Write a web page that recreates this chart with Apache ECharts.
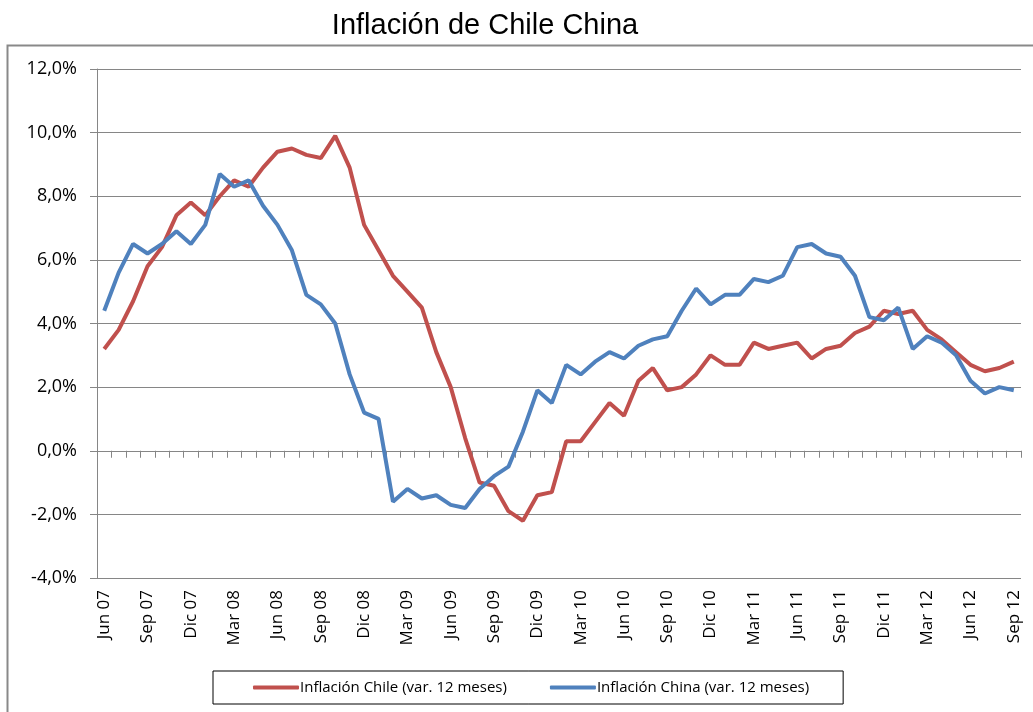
<!DOCTYPE html>
<html>
<head>
    <meta charset="utf-8">
    <title>Inflación de Chile China</title>
    <script src="https://cdn.jsdelivr.net/npm/echarts@6/dist/echarts.min.js"></script>
    <style>
        html, body { margin: 0; padding: 0; background: #fff; }
    </style>
</head>
<body>
<div id="main" style="width: 1033px;height:712px;"></div>
<script type="text/javascript">
    // meses jun 07 .. sep 12
    var meses = ['Ene','Feb','Mar','Abr','May','Jun','Jul','Ago','Sep','Oct','Nov','Dic'];
    var categorias = [];
    for (var a = 7; a <= 12; a++) {
        for (var m = 0; m < 12; m++) {
            if (a === 7 && m < 5) continue;
            if (a === 12 && m > 8) continue;
            categorias.push(meses[m] + ' ' + (a < 10 ? '0' + a : a));
        }
    }

    // inflacion (var. 12 meses), en %
    var chile = [
        3.2, 3.8, 4.7, 5.8, 6.4, 7.4, 7.8, 7.4, 8.0, 8.5, 8.3, 8.9,
        9.4, 9.5, 9.3, 9.2, 9.9, 8.9, 7.1, 6.3, 5.5, 5.0, 4.5, 3.1,
        2.0, 0.4, -1.0, -1.1, -1.9, -2.2, -1.4, -1.3, 0.3, 0.3, 0.9, 1.5,
        1.1, 2.2, 2.6, 1.9, 2.0, 2.4, 3.0, 2.7, 2.7, 3.4, 3.2, 3.3,
        3.4, 2.9, 3.2, 3.3, 3.7, 3.9, 4.4, 4.3, 4.4, 3.8, 3.5, 3.1,
        2.7, 2.5, 2.6, 2.8
    ];
    var china = [
        4.4, 5.6, 6.5, 6.2, 6.5, 6.9, 6.5, 7.1, 8.7, 8.3, 8.5, 7.7,
        7.1, 6.3, 4.9, 4.6, 4.0, 2.4, 1.2, 1.0, -1.6, -1.2, -1.5, -1.4,
        -1.7, -1.8, -1.2, -0.8, -0.5, 0.6, 1.9, 1.5, 2.7, 2.4, 2.8, 3.1,
        2.9, 3.3, 3.5, 3.6, 4.4, 5.1, 4.6, 4.9, 4.9, 5.4, 5.3, 5.5,
        6.4, 6.5, 6.2, 6.1, 5.5, 4.2, 4.1, 4.5, 3.2, 3.6, 3.4, 3.0,
        2.2, 1.8, 2.0, 1.9
    ];

    var myChart = echarts.init(document.getElementById('main'));
    var option = {
        animation: false,
        title: {
            text: 'Inflación de Chile China',
            left: 480,
            textAlign: 'center',
            top: 6,
            textStyle: {
                fontFamily: 'Liberation Sans Narrow, Liberation Sans, sans-serif',
                fontSize: 29,
                fontWeight: 'normal',
                color: '#000'
            }
        },
        graphic: [
            {   // marco del grafico
                type: 'rect',
                shape: { x: 7.5, y: 45.5, width: 1040, height: 700 },
                style: { fill: 'none', stroke: '#898989', lineWidth: 2 },
                silent: true
            }
        ],
        legend: {
            left: 213,
            top: 671,
            padding: [9, 34, 9, 40],
            borderColor: '#000',
            borderWidth: 1,
            itemWidth: 46,
            itemHeight: 4,
            itemGap: 43,
            icon: 'roundRect',
            textStyle: {
                fontFamily: 'Open Sans',
                fontSize: 15,
                color: '#000',
                padding: [0, 0, 0, -4]
            },
            data: ['Inflación Chile (var. 12 meses)', 'Inflación China (var. 12 meses)']
        },
        grid: {
            left: 97,
            right: 12,
            top: 69,
            bottom: 134
        },
        xAxis: [
            {
                type: 'category',
                data: categorias,
                boundaryGap: true,
                axisLine: { show: false, onZero: false },
                axisTick: { show: false },
                axisLabel: {
                    interval: 2,
                    rotate: 90,
                    margin: 12,
                    fontFamily: 'Open Sans',
                    fontSize: 17,
                    color: '#000'
                }
            },
            {
                type: 'category',
                data: categorias,
                boundaryGap: true,
                axisLine: { show: true, onZero: true, lineStyle: { color: '#868686', width: 1 } },
                axisTick: { show: true, inside: true, interval: 0, length: 7, lineStyle: { color: '#868686' } },
                axisLabel: { show: false }
            }
        ],
        yAxis: {
            type: 'value',
            min: -4,
            max: 12,
            interval: 2,
            axisLine: { show: true, lineStyle: { color: '#868686' } },
            axisTick: { show: true, length: 7, lineStyle: { color: '#868686' } },
            splitLine: { show: true, lineStyle: { color: '#868686', width: 1 } },
            axisLabel: {
                margin: 20,
                fontFamily: 'Open Sans',
                fontSize: 18,
                color: '#000',
                formatter: function (v) {
                    return v.toFixed(1).replace('.', ',') + '%';
                }
            }
        },
        series: [
            {
                name: 'Inflación Chile (var. 12 meses)',
                type: 'line',
                xAxisIndex: 0,
                data: chile,
                symbol: 'none',
                color: '#C0504D',
                lineStyle: { width: 4, color: '#C0504D' }
            },
            {
                name: 'Inflación China (var. 12 meses)',
                type: 'line',
                xAxisIndex: 0,
                data: china,
                symbol: 'none',
                color: '#4F81BD',
                lineStyle: { width: 4, color: '#4F81BD' }
            }
        ]
    };
    myChart.setOption(option);
</script>
</body>
</html>
